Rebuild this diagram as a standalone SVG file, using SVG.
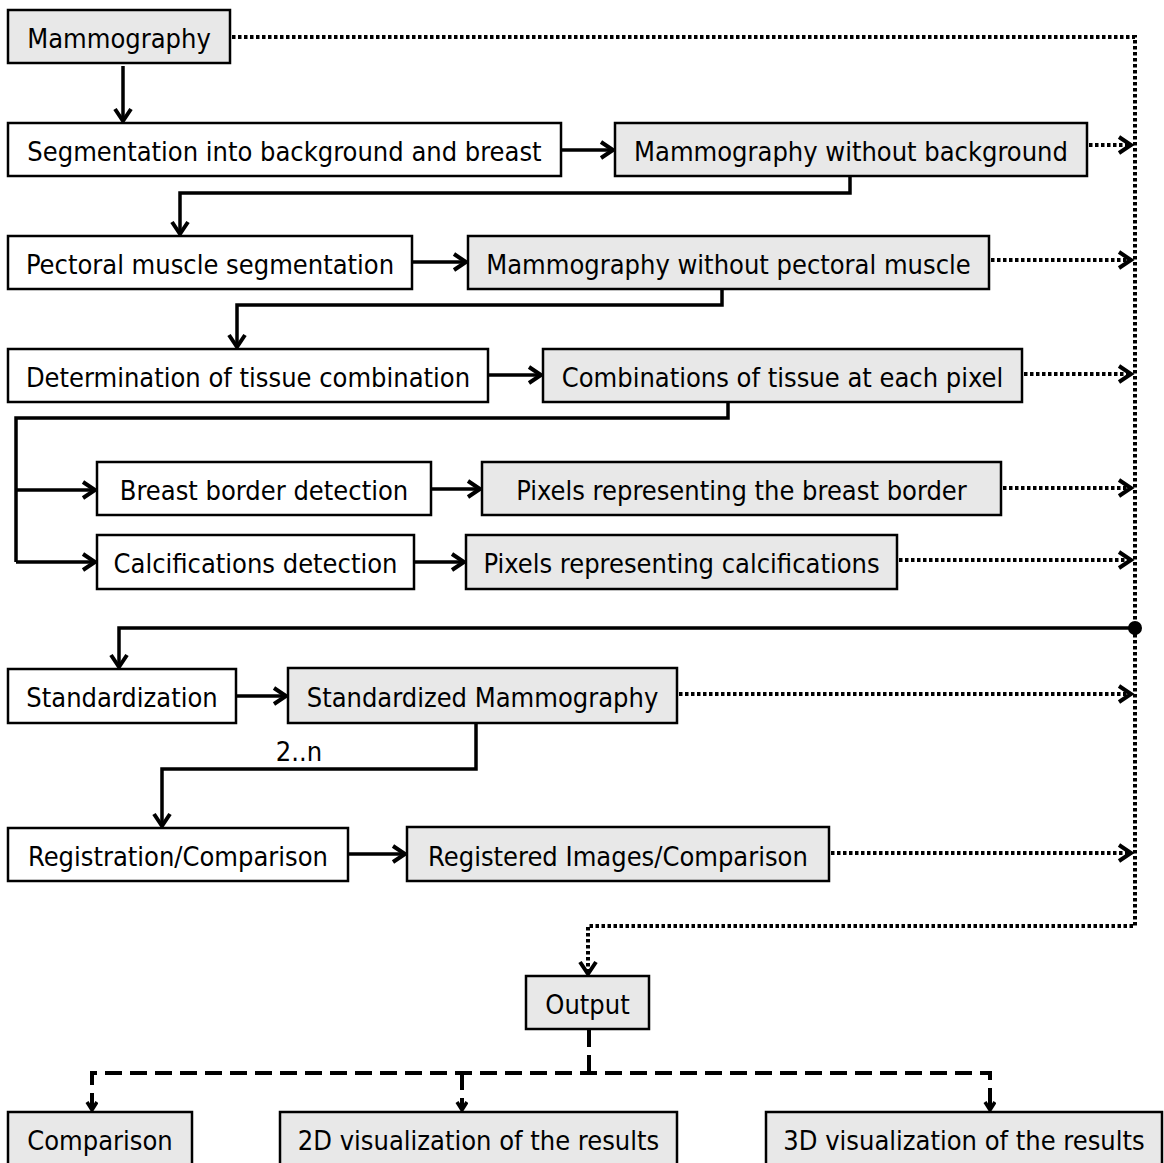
<svg xmlns="http://www.w3.org/2000/svg" width="1164" height="1163" viewBox="0 0 1164 1163">
  <style>
    .box { stroke: #000; stroke-width: 2.5; }
    .step { fill: #ffffff; }
    .data { fill: #e8e8e8; }
    text { font-family: "DejaVu Sans Condensed", "DejaVu Sans", "Liberation Sans", sans-serif; font-stretch: condensed; font-size: 27px; fill: #000; text-anchor: middle; }
    .solid { fill: none; stroke: #000; stroke-width: 3.5; }
    .dotted { fill: none; stroke: #000; stroke-width: 4; stroke-dasharray: 3.5 2.5; }
    .dashed { fill: none; stroke: #000; stroke-width: 4; stroke-dasharray: 17 8; }
  </style>
  <defs>
    <marker id="head" markerUnits="userSpaceOnUse" markerWidth="20" markerHeight="22" refX="14" refY="10" orient="auto">
      <path d="M2,2 L14,10 L2,18" fill="none" stroke="#000" stroke-width="4" stroke-linejoin="miter"/>
    </marker>
    <marker id="headSmall" markerUnits="userSpaceOnUse" markerWidth="14" markerHeight="14" refX="10" refY="6" orient="auto">
      <path d="M2,1 L10,6 L2,11" fill="none" stroke="#000" stroke-width="3.5" stroke-linejoin="miter"/>
    </marker>
  </defs>

  <!-- connectors -->
  <g id="connectors">
    <!-- processing chain (solid) -->
    <path class="solid" d="M123,66 V121" marker-end="url(#head)"/>
    <path class="solid" d="M561,150 H613" marker-end="url(#head)"/>
    <path class="solid" d="M850,176 V193 H180 V234" marker-end="url(#head)"/>
    <path class="solid" d="M412,262 H466" marker-end="url(#head)"/>
    <path class="solid" d="M722,289 V305 H237 V347" marker-end="url(#head)"/>
    <path class="solid" d="M488,375 H541" marker-end="url(#head)"/>
    <path class="solid" d="M728,402 V418 H16 V562"/>
    <path class="solid" d="M16,490 H95" marker-end="url(#head)"/>
    <path class="solid" d="M16,562 H95" marker-end="url(#head)"/>
    <path class="solid" d="M431,489 H480" marker-end="url(#head)"/>
    <path class="solid" d="M414,562 H464" marker-end="url(#head)"/>
    <path class="solid" d="M1135,628 H119 V667" marker-end="url(#head)"/>
    <path class="solid" d="M236,696 H286" marker-end="url(#head)"/>
    <path class="solid" d="M476,723 V769 H162 V826" marker-end="url(#head)"/>
    <path class="solid" d="M348,854 H405" marker-end="url(#head)"/>
    <circle cx="1135" cy="628" r="7" fill="#000"/>

    <!-- intermediate results collected to output (dotted) -->
    <path class="dotted" d="M232,37 H1135 V926 H588 V974" marker-end="url(#head)"/>
    <path class="dotted" d="M1089,145 H1131" marker-end="url(#head)"/>
    <path class="dotted" d="M991,260 H1131" marker-end="url(#head)"/>
    <path class="dotted" d="M1024,374 H1131" marker-end="url(#head)"/>
    <path class="dotted" d="M1003,488 H1131" marker-end="url(#head)"/>
    <path class="dotted" d="M899,560 H1131" marker-end="url(#head)"/>
    <path class="dotted" d="M679,694 H1131" marker-end="url(#head)"/>
    <path class="dotted" d="M831,853 H1131" marker-end="url(#head)"/>

    <!-- output variants (dashed) -->
    <path class="dashed" d="M589,1030 V1073"/>
    <path class="dashed" d="M92,1110 V1073 H990 V1110"/>
    <path class="solid" d="M92,1098 V1110" marker-end="url(#headSmall)"/>
    <path class="dashed" d="M462,1073 V1110"/>
    <path class="solid" d="M462,1098 V1110" marker-end="url(#headSmall)"/>
    <path class="solid" d="M990,1098 V1110" marker-end="url(#headSmall)"/>
  </g>

  <g id="mammography">
    <rect class="box data" x="8" y="10" width="222" height="53"/>
    <text x="119" y="48">Mammography</text>
  </g>
  <g id="segmentation">
    <rect class="box step" x="8" y="123" width="553" height="53"/>
    <text x="284.5" y="161">Segmentation into background and breast</text>
  </g>
  <g id="no-background">
    <rect class="box data" x="615" y="123" width="472" height="53"/>
    <text x="851" y="161">Mammography without background</text>
  </g>
  <g id="pectoral-segmentation">
    <rect class="box step" x="8" y="236" width="404" height="53"/>
    <text x="210" y="274">Pectoral muscle segmentation</text>
  </g>
  <g id="no-pectoral">
    <rect class="box data" x="468" y="236" width="521" height="53"/>
    <text x="728.5" y="274">Mammography without pectoral muscle</text>
  </g>
  <g id="tissue-determination">
    <rect class="box step" x="8" y="349" width="480" height="53"/>
    <text x="248" y="387">Determination of tissue combination</text>
  </g>
  <g id="tissue-combinations">
    <rect class="box data" x="543" y="349" width="479" height="53"/>
    <text x="782.5" y="387">Combinations of tissue at each pixel</text>
  </g>
  <g id="border-detection">
    <rect class="box step" x="97" y="462" width="334" height="53"/>
    <text x="264" y="500">Breast border detection</text>
  </g>
  <g id="border-pixels">
    <rect class="box data" x="482" y="462" width="519" height="53"/>
    <text x="741.5" y="500">Pixels representing the breast border</text>
  </g>
  <g id="calc-detection">
    <rect class="box step" x="97" y="535" width="317" height="54"/>
    <text x="255.5" y="573">Calcifications detection</text>
  </g>
  <g id="calc-pixels">
    <rect class="box data" x="466" y="535" width="431" height="54"/>
    <text x="681.5" y="573">Pixels representing calcifications</text>
  </g>
  <g id="standardization">
    <rect class="box step" x="8" y="669" width="228" height="54"/>
    <text x="122" y="707">Standardization</text>
  </g>
  <g id="standardized">
    <rect class="box data" x="288" y="668" width="389" height="55"/>
    <text x="482.5" y="707">Standardized Mammography</text>
  </g>
  <text x="299" y="761">2..n</text>
  <g id="registration">
    <rect class="box step" x="8" y="828" width="340" height="53"/>
    <text x="178" y="866">Registration/Comparison</text>
  </g>
  <g id="registered">
    <rect class="box data" x="407" y="827" width="422" height="54"/>
    <text x="618" y="866">Registered Images/Comparison</text>
  </g>
  <g id="output">
    <rect class="box data" x="526" y="976" width="123" height="53"/>
    <text x="587.5" y="1014">Output</text>
  </g>
  <g id="comparison">
    <rect class="box data" x="8" y="1112" width="184" height="60"/>
    <text x="100" y="1150">Comparison</text>
  </g>
  <g id="vis-2d">
    <rect class="box data" x="280" y="1112" width="397" height="60"/>
    <text x="478.5" y="1150">2D visualization of the results</text>
  </g>
  <g id="vis-3d">
    <rect class="box data" x="766" y="1112" width="396" height="60"/>
    <text x="964" y="1150">3D visualization of the results</text>
  </g>
</svg>
